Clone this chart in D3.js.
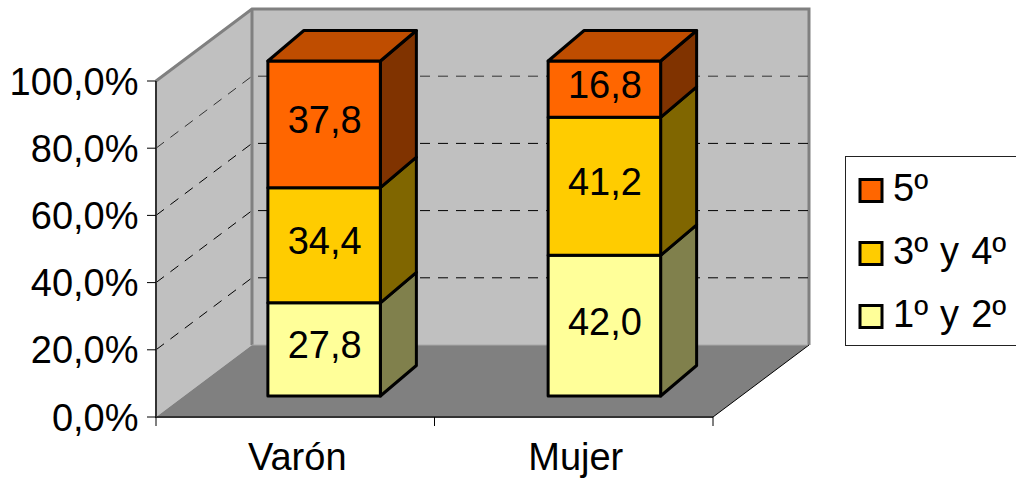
<!DOCTYPE html>
<html><head><meta charset="utf-8">
<script src="https://cdn.jsdelivr.net/npm/d3@7/dist/d3.min.js"></script>
<style>html,body{margin:0;padding:0;background:#fff}svg{display:block}text{font-family:"Liberation Sans",Arial,sans-serif;fill:#000}</style>
</head><body><svg id="c" width="1016" height="482"></svg>
<script>
const categories=["Varón","Mujer"];
const seriesNames=["1º y 2º","3º y 4º","5º"];
const s12=[27.8,42.0];
const s34=[34.4,41.2];
const s5=[37.8,16.8];
const valueLabels=[["27,8","42,0"],["34,4","41,2"],["37,8","16,8"]];
const yTicks=[0,20,40,60,80,100];
const yTickLabels=["0,0%","20,0%","40,0%","60,0%","80,0%","100,0%"];
const front=["#ffff99","#ffcc00","#ff6600"];
const side=["#80804c","#806600","#803300"];
const topCol="#bf4d00";

const svg=d3.select("#c");
const y=d3.scaleLinear().domain([0,100]).range([417,81]);
const barY=d3.scaleLinear().domain([0,100]).range([396,61]);
const x=d3.scaleBand().domain(categories).range([156,713]);
const barX=d3.scaleBand().domain(categories).range([184,744.5]);
const depth={dx:96,dy:-72}, barD={dx:36,dy:-30.5};
const barW=112.5;
const L=x.range()[0],R=x.range()[1];
const line=d3.line();
const poly=(pts,fill,stroke,sw)=>svg.append("path").attr("d",line(pts)+"Z").attr("fill",fill)
  .attr("stroke",stroke||"none").attr("stroke-width",sw||0).attr("stroke-linejoin","round");
const by=y(0),ty=y(100);
poly([[L,by],[L+depth.dx,by+depth.dy],[L+depth.dx,ty+depth.dy],[L,ty]],"#c0c0c0");
poly([[L+depth.dx,by+depth.dy],[R+depth.dx,by+depth.dy],[R+depth.dx,ty+depth.dy],[L+depth.dx,ty+depth.dy]],"#c0c0c0");
poly([[L,by],[R,by],[R+depth.dx,by+depth.dy],[L+depth.dx,by+depth.dy]],"#808080");
svg.append("path").attr("d",line([[L,ty],[L+depth.dx,ty+depth.dy],[R+depth.dx,ty+depth.dy],[R+depth.dx,by+depth.dy]])).attr("fill","none").attr("stroke","#808080").attr("stroke-width",3);
svg.append("path").attr("d",line([[L+depth.dx,ty+depth.dy],[L+depth.dx,by+depth.dy]])).attr("fill","none").attr("stroke","#808080").attr("stroke-width",3);
svg.append("path").attr("d",line([[R,by],[R+depth.dx,by+depth.dy]])).attr("fill","none").attr("stroke","#000").attr("stroke-width",1);
svg.append("path").attr("d",line([[L+depth.dx,by+depth.dy],[R+depth.dx-1,by+depth.dy]])).attr("fill","none").attr("stroke","#a8a8a8").attr("stroke-width",1);
yTicks.slice(1,5).forEach(t=>{
  const py=y(t);
  svg.append("path").attr("d",line([[L,py],[L+depth.dx,py+depth.dy],[R+depth.dx,py+depth.dy]]))
    .attr("fill","none").attr("stroke",t===80?"#333":"#000").attr("stroke-width",1).attr("stroke-dasharray","10 8");
});
svg.append("path").attr("d",line([[L,ty],[L,by],[R,by]])).attr("fill","none").attr("stroke","#333").attr("stroke-width",2);
yTicks.forEach((t,i)=>{
  svg.append("line").attr("x1",L-9).attr("x2",L).attr("y1",y(t)).attr("y2",y(t)).attr("stroke","#000").attr("stroke-width",1);
  svg.append("text").attr("x",138.5).attr("y",y(t)+13.5).attr("text-anchor","end").attr("font-size",38).text(yTickLabels[i]);
});
[L,x(categories[1]),R].forEach(v=>svg.append("line").attr("x1",v).attr("x2",v).attr("y1",by).attr("y2",by+9).attr("stroke","#000").attr("stroke-width",1));
categories.forEach(c=>svg.append("text").attr("x",x(c)+x.bandwidth()/2+2).attr("y",470).attr("text-anchor","middle").attr("font-size",38).text(c));
const series=[s12,s34,s5];
categories.forEach((c,ci)=>{
  const x0=barX(c)+barX.bandwidth()/2-barW/2, x1=x0+barW;
  let acc=0;
  series.forEach((s,si)=>{
    const v=s[ci], yb=barY(acc), yt=barY(acc+v);
    poly([[x1,yb],[x1+barD.dx,yb+barD.dy],[x1+barD.dx,yt+barD.dy],[x1,yt]],side[si],"#000",3);
    poly([[x0,yb],[x1,yb],[x1,yt],[x0,yt]],front[si],"#000",3);
    if(si===2) poly([[x0,yt],[x1,yt],[x1+barD.dx,yt+barD.dy],[x0+barD.dx,yt+barD.dy]],topCol,"#000",3);
    svg.append("text").attr("x",(x0+x1)/2+0.5).attr("y",(yb+yt)/2+9).attr("text-anchor","middle").attr("font-size",38).text(valueLabels[si][ci]);
    acc+=v;
  });
});
svg.append("rect").attr("x",845.5).attr("y",156.5).attr("width",172).attr("height",189).attr("fill","#fff").attr("stroke","#222").attr("stroke-width",1);
const legY=d3.scalePoint().domain([2,1,0]).range([190.5,316.5]);
[2,1,0].forEach(i=>{
  const cy=legY(i);
  svg.append("rect").attr("x",860).attr("y",cy-11).attr("width",22).attr("height",22).attr("fill",front[i]).attr("stroke","#000").attr("stroke-width",3);
  svg.append("text").attr("x",893).attr("y",cy+10).attr("font-size",38).attr("word-spacing",1.5).text(seriesNames[i]);
});
</script></body></html>
